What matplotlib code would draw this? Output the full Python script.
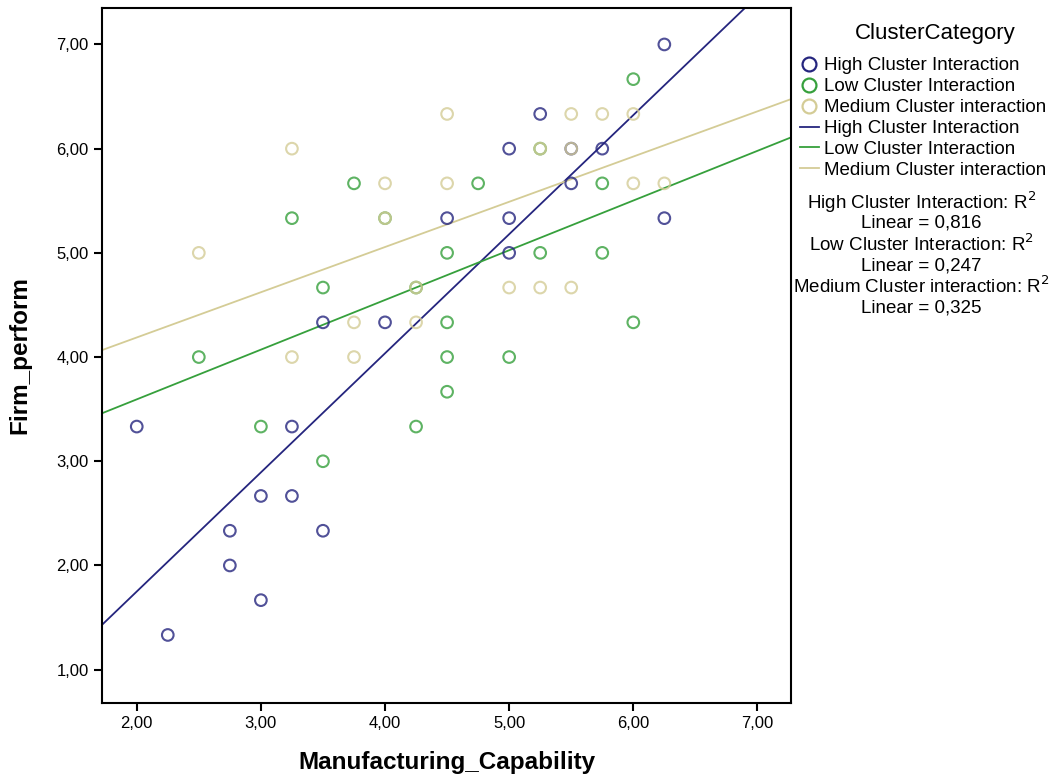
import numpy as np
import matplotlib
matplotlib.use("Agg")
import matplotlib.pyplot as plt
from matplotlib.lines import Line2D
from matplotlib.ticker import FuncFormatter

plt.rcParams['font.family'] = ['Liberation Sans', 'DejaVu Sans']

# Данные по группам
groups = ["High Cluster Interaction", "Low Cluster Interaction", "Medium Cluster interaction"]

high_x = [2.00, 2.25, 2.75, 2.75, 3.00, 3.00, 3.25, 3.25, 3.50, 3.50,
          4.00, 4.50, 5.00, 5.00, 5.00, 5.25, 5.50, 5.75, 6.25, 6.25, 5.50]
high_y = [3.333, 1.333, 2.333, 2.000, 2.667, 1.667, 3.333, 2.667, 4.333, 2.333,
          4.333, 5.333, 6.000, 5.333, 5.000, 6.333, 5.667, 6.000, 7.000, 5.333, 6.000]

low_x = [2.50, 3.00, 3.25, 3.50, 3.50, 3.75, 4.00, 4.25, 4.25, 4.50, 4.50, 4.50,
         4.50, 4.75, 5.00, 5.25, 5.25, 5.75, 5.75, 6.00, 6.00]
low_y = [4.000, 3.333, 5.333, 4.667, 3.000, 5.667, 5.333, 4.667, 3.333, 5.000, 4.333, 4.000,
         3.667, 5.667, 4.000, 6.000, 5.000, 5.667, 5.000, 6.667, 4.333]

med_x = [2.50, 3.25, 3.25, 3.75, 3.75, 4.00, 4.00, 4.25, 4.25, 4.50, 4.50, 5.00,
         5.25, 5.25, 5.50, 5.50, 5.50, 5.75, 6.00, 6.00, 6.25]
med_y = [5.000, 6.000, 4.000, 4.333, 4.000, 5.667, 5.333, 4.667, 4.333, 6.333, 5.667, 4.667,
         6.000, 4.667, 6.333, 6.000, 4.667, 6.333, 6.333, 5.667, 5.667]

# линии регрессии (наклон, свободный член), как на исходном графике
fit_slope = [1.143, 0.477, 0.434]
fit_icpt = [-0.536, 2.64, 3.32]
r2_values = ["0,816", "0,247", "0,325"]
colors = ["#25257e", "#36a03c", "#d4cc96"]

fig = plt.figure(figsize=(10.58, 7.75), dpi=100)
ax = fig.add_axes([0.0964, 0.0929, 0.6512, 0.8968])

data = [(high_x, high_y), (low_x, low_y), (med_x, med_y)]
xlim = (1.72, 7.27)
for (xs, ys), c in zip(data, colors):
    ax.scatter(xs, ys, s=70, facecolors='none', edgecolors=c, linewidths=1.5, alpha=0.8, zorder=3)
for k, b, c in zip(fit_slope, fit_icpt, colors):
    xx = np.array(xlim)
    ax.plot(xx, k * xx + b, color=c, lw=1.3, zorder=2)

ax.set_xlim(*xlim)
ax.set_ylim(0.68, 7.35)
ax.set_xticks([2, 3, 4, 5, 6, 7])
ax.set_yticks([1, 2, 3, 4, 5, 6, 7])
fmt = FuncFormatter(lambda v, p: f"{v:.2f}".replace(".", ","))
ax.xaxis.set_major_formatter(fmt)
ax.yaxis.set_major_formatter(fmt)
ax.tick_params(labelsize=12, length=6, width=1.5, direction='out')
for s in ax.spines.values():
    s.set_linewidth(1.5)
ax.set_xlabel("Manufacturing_Capability", fontsize=17.5, fontweight='bold', labelpad=14)
ax.set_ylabel("Firm_perform", fontsize=17.5, fontweight='bold', labelpad=18)

# Легенда
fig.text(0.884, 0.957, "ClusterCategory", ha='center', va='center', fontsize=16)
handles = [Line2D([], [], ls='none', marker='o', ms=10, mfc='none', mec=c, mew=1.6) for c in colors]
handles += [Line2D([], [], color=c, lw=1.3) for c in colors]
leg = fig.legend(handles, groups + groups, loc='upper left',
                 bbox_to_anchor=(0.756, 0.926), frameon=False, fontsize=13.5,
                 handlelength=1.0, handletextpad=0.3,
                 labelspacing=0.2, borderaxespad=0, borderpad=0)

y0 = 0.739
step = 0.0272
for i, (g, r) in enumerate(zip(groups, r2_values)):
    fig.text(0.871, y0 - 2 * i * step, g + ": R$^2$", ha='center', va='center', fontsize=13.5)
    fig.text(0.871, y0 - (2 * i + 1) * step, "Linear = " + r, ha='center', va='center', fontsize=13.5)

fig.savefig("out.png", dpi=100)
